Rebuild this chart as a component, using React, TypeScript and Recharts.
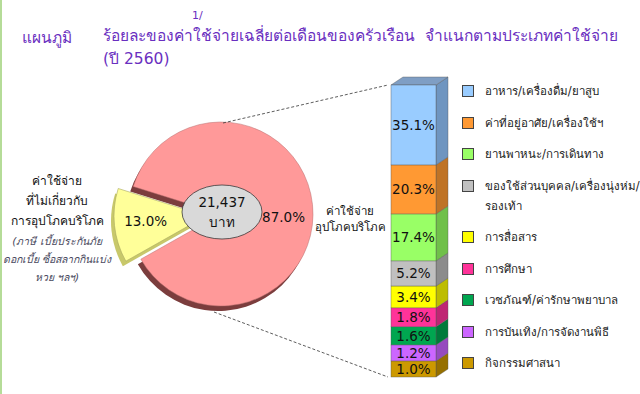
import { Bar, BarChart, Cell, LabelList, Pie, PieChart, XAxis, YAxis } from 'recharts';

// แผนภูมิ: ร้อยละของค่าใช้จ่ายเฉลี่ยต่อเดือนของครัวเรือน (ปี 2560) — pie of bar
const TITLE_LABEL = 'แผนภูมิ';
const TITLE_TEXT = 'ร้อยละของค่าใช้จ่ายเฉลี่ยต่อเดือนของครัวเรือน  จำแนกตามประเภทค่าใช้จ่าย';
const TITLE_YEAR = '(ปี 2560)';
const TITLE_NOTE = '1/';

const TOTAL_BAHT = '21,437';
const BAHT = 'บาท';

// วงกลม: ไม่เกี่ยวกับการอุปโภคบริโภค / อุปโภคบริโภค
const PIE_NAMES = ['ไม่เกี่ยวกับการอุปโภคบริโภค', 'อุปโภคบริโภค'];
const PIE_VALUES = [13.0, 87.0];
const NON_CONSUMPTION_LINES = ['ค่าใช้จ่าย', 'ที่ไม่เกี่ยวกับ', 'การอุปโภคบริโภค'];
const NON_CONSUMPTION_NOTE = ['(ภาษี เบี้ยประกันภัย', 'ดอกเบี้ย ซื้อสลากกินแบ่ง', 'หวย ฯลฯ)'];
const CONSUMPTION_LINES = ['ค่าใช้จ่าย', 'อุปโภคบริโภค'];

// แท่ง: หมวดค่าใช้จ่ายอุปโภคบริโภค (บนลงล่าง)
const CATEGORIES = [
  'อาหาร/เครื่องดื่ม/ยาสูบ',
  'ค่าที่อยู่อาศัย/เครื่องใช้ฯ',
  'ยานพาหนะ/การเดินทาง',
  'ของใช้ส่วนบุคคล/เครื่องนุ่งห่ม/\nรองเท้า',
  'การสื่อสาร',
  'การศึกษา',
  'เวชภัณฑ์/ค่ารักษาพยาบาล',
  'การบันเทิง/การจัดงานพิธี',
  'กิจกรรมศาสนา',
];
const CATEGORY_PERCENT = [35.1, 20.3, 17.4, 5.2, 3.4, 1.8, 1.6, 1.2, 1.0];
// ในภาพแท่งไม่ได้วาดตามสัดส่วนจริง — ส่วนของความสูงแท่งที่แต่ละหมวดกินพื้นที่ (อ่านจากภาพ)
const COLUMN_SHARE = [27.4, 16.8, 16.1, 8.6, 7.5, 6.5, 6.2, 5.5, 5.5];

const BAR_COLORS = ['#99ccff', '#ff9933', '#99ff66', '#c0c0c0', '#ffff00', '#ff3399', '#00a650', '#cc66ff', '#cc9900'];
const BAR_SIDE = ['#6f95c0', '#bf7326', '#70c04a', '#8c8c8c', '#bdbd00', '#bf2673', '#007a3b', '#964bbf', '#967000'];
const BAR_TOP = '#7f9ec4';

const PINK = '#ff9999';
const PINK_EDGE = '#7b3d3d';
const YELLOW = '#ffff99';
const YELLOW_EDGE = '#c8c86a';
const TITLE_COLOR = '#6a2fc0';

const FONT = '"DejaVu Sans", "Noto Sans", sans-serif';

const pieData = PIE_NAMES.map((name, i) => ({ name, value: PIE_VALUES[i] }));
const columnRow: Record<string, number | string> = { name: 'consumption' };
COLUMN_SHARE.forEach((v, i) => (columnRow[`c${i}`] = v));
const columnTotal = COLUMN_SHARE.reduce((a, b) => a + b, 0);

const PIE_CX = 221;
const PIE_CY = 214;
const PIE_R = 92;
const START = 162.6;
const EXPLODE = { dx: -15, dy: 2 };
const SHADOW = { dx: -3, dy: 5 };
const DEPTH = { dx: 12, dy: 8 };

function Block3D(props: any) {
  const { x, y, width, height, cat } = props;
  if (!height) return null;
  const x2 = x + width;
  return (
    <g>
      <polygon
        points={`${x2},${y} ${x2 + DEPTH.dx},${y - DEPTH.dy} ${x2 + DEPTH.dx},${y + height - DEPTH.dy} ${x2},${y + height}`}
        fill={BAR_SIDE[cat]}
        stroke="#555"
        strokeWidth={0.4}
      />
      {cat === 0 && (
        <polygon
          points={`${x},${y} ${x + DEPTH.dx},${y - DEPTH.dy} ${x2 + DEPTH.dx},${y - DEPTH.dy} ${x2},${y}`}
          fill={BAR_TOP}
          stroke="#555"
          strokeWidth={0.4}
        />
      )}
      <rect x={x} y={y} width={width} height={height} fill={BAR_COLORS[cat]} stroke="#555" strokeWidth={0.4} />
    </g>
  );
}

function BlockLabel(props: any) {
  const { x, y, width, height, cat } = props;
  return (
    <text
      x={x + width / 2}
      y={y + height / 2 + 1}
      textAnchor="middle"
      dominantBaseline="middle"
      fontFamily={FONT}
      fontSize={13.5}
      fill="#111"
    >
      {CATEGORY_PERCENT[cat].toFixed(1)}%
    </text>
  );
}

function ColumnLegend() {
  return (
    <div style={{ fontFamily: FONT, fontSize: 11.5, color: '#222' }}>
      {CATEGORIES.map((c, i) => (
        <div key={c} style={{ display: 'flex', alignItems: 'flex-start', marginBottom: 11.5, lineHeight: '20px' }}>
          <span
            style={{
              width: 12,
              height: 12,
              marginTop: 4,
              marginRight: 11,
              background: BAR_COLORS[i],
              border: '1px solid #444',
              boxSizing: 'border-box',
              flex: 'none',
            }}
          />
          <span style={{ whiteSpace: 'pre' }}>{c}</span>
        </div>
      ))}
    </div>
  );
}

function pieLabel(which: number) {
  return (props: any) => {
    const { cx, cy, outerRadius, midAngle, index } = props;
    if (index !== which) return null;
    let x: number;
    let y: number;
    if (which === 1) {
      x = cx + outerRadius * 0.68;
      y = cy + 4;
    } else {
      const rad = (midAngle * Math.PI) / 180;
      x = cx + outerRadius * 0.66 * Math.cos(rad);
      y = cy - outerRadius * 0.66 * Math.sin(rad);
    }
    return (
      <text x={x} y={y} textAnchor="middle" dominantBaseline="middle" fontFamily={FONT} fontSize={13.5} fill="#111">
        {PIE_VALUES[index].toFixed(1)}%
      </text>
    );
  };
}

export default function App() {
  const common = {
    data: pieData,
    dataKey: 'value',
    outerRadius: PIE_R,
    startAngle: START,
    endAngle: START + 360,
    isAnimationActive: false,
    stroke: 'none',
  };
  return (
    <div style={{ position: 'absolute', left: 0, top: 0, width: 640, height: 394, background: '#fff', overflow: 'hidden' }}>
      <div style={{ position: 'absolute', left: 0, top: 0, width: 2, height: 394, background: '#b5dc98' }} />

      <div style={{ position: 'absolute', left: 0, top: 0, width: 640, height: 394 }}>
        <PieChart width={640} height={394} margin={{ top: 0, right: 0, bottom: 0, left: 0 }}>
          {/* ขอบหนา 3 มิติ */}
          <Pie {...common} cx={PIE_CX + SHADOW.dx} cy={PIE_CY + SHADOW.dy}>
            <Cell fill="none" />
            <Cell fill={PINK_EDGE} />
          </Pie>
          <Pie {...common} cx={PIE_CX + EXPLODE.dx + SHADOW.dx} cy={PIE_CY + EXPLODE.dy + SHADOW.dy}>
            <Cell fill={YELLOW_EDGE} />
            <Cell fill="none" />
          </Pie>
          <Pie {...common} cx={PIE_CX} cy={PIE_CY} label={pieLabel(1)} labelLine={false}>
            <Cell fill="none" />
            <Cell fill={PINK} stroke="#b86f6f" strokeWidth={0.5} />
          </Pie>
          <Pie {...common} cx={PIE_CX + EXPLODE.dx} cy={PIE_CY + EXPLODE.dy} label={pieLabel(0)} labelLine={false}>
            <Cell fill={YELLOW} stroke="#a8a860" strokeWidth={0.6} />
            <Cell fill="none" />
          </Pie>
        </PieChart>
      </div>

      <svg width={640} height={394} style={{ position: 'absolute', left: 0, top: 0 }}>
        <line x1={223} y1={123} x2={388} y2={85} stroke="#333" strokeWidth={0.8} strokeDasharray="3 2" />
        <line x1={214} y1={312} x2={388} y2={377} stroke="#333" strokeWidth={0.8} strokeDasharray="3 2" />
        <ellipse cx={222} cy={212} rx={40} ry={27} fill="#d9d9d9" stroke="#3a3a3a" strokeWidth={0.8} />
        <text x={222} y={203} textAnchor="middle" dominantBaseline="middle" fontFamily={FONT} fontSize={13.5} fill="#111">
          {TOTAL_BAHT}
        </text>
        <text x={222} y={223} textAnchor="middle" dominantBaseline="middle" fontFamily={FONT} fontSize={13.5} fill="#111">
          {BAHT}
        </text>
      </svg>

      <div style={{ position: 'absolute', left: 0, top: 0, width: 640, height: 394 }}>
        <BarChart width={640} height={394} data={[columnRow]} margin={{ top: 85, right: 202, bottom: 17, left: 388 }} barCategoryGap={0}>
          <XAxis dataKey="name" hide />
          <YAxis hide domain={[0, columnTotal]} />
          {COLUMN_SHARE.map((_, j) => {
            const i = COLUMN_SHARE.length - 1 - j;
            return (
              <Bar
                key={i}
                dataKey={`c${i}`}
                stackId="col"
                barSize={50}
                isAnimationActive={false}
                shape={(p: any) => <Block3D {...p} cat={i} />}
              >
                <LabelList dataKey={`c${i}`} content={(p: any) => <BlockLabel {...p} cat={i} />} />
              </Bar>
            );
          })}
        </BarChart>
      </div>

      <div style={{ position: 'absolute', left: 462, top: 81 }}>
        <ColumnLegend />
      </div>

      {/* ข้อความ */}
      <div style={{ position: 'absolute', left: 22, top: 25, fontFamily: FONT, fontSize: 15.5, color: TITLE_COLOR, whiteSpace: 'nowrap' }}>
        {TITLE_LABEL}
      </div>
      <div style={{ position: 'absolute', left: 103, top: 25, fontFamily: FONT, fontSize: 15.5, color: TITLE_COLOR, lineHeight: '23px', whiteSpace: 'pre' }}>
        {TITLE_TEXT}
        {'\n'}
        {TITLE_YEAR}
      </div>
      <div style={{ position: 'absolute', left: 192, top: 9, fontFamily: FONT, fontSize: 11, color: TITLE_COLOR }}>{TITLE_NOTE}</div>

      <div style={{ position: 'absolute', left: 0, top: 171, width: 114, textAlign: 'center', fontFamily: FONT, fontSize: 12, color: '#111', lineHeight: '20px', whiteSpace: 'nowrap' }}>
        {NON_CONSUMPTION_LINES.map((l) => (
          <div key={l}>{l}</div>
        ))}
      </div>
      <div style={{ position: 'absolute', left: 0, top: 232, width: 114, textAlign: 'center', fontFamily: FONT, fontSize: 10.5, fontStyle: 'italic', color: '#4a4a60', lineHeight: '18px', whiteSpace: 'nowrap' }}>
        {NON_CONSUMPTION_NOTE.map((l) => (
          <div key={l}>{l}</div>
        ))}
      </div>
      <div style={{ position: 'absolute', left: 306, top: 203, width: 88, textAlign: 'center', fontFamily: FONT, fontSize: 11.5, color: '#111', lineHeight: '16px', whiteSpace: 'nowrap' }}>
        {CONSUMPTION_LINES.map((l) => (
          <div key={l}>{l}</div>
        ))}
      </div>
    </div>
  );
}
